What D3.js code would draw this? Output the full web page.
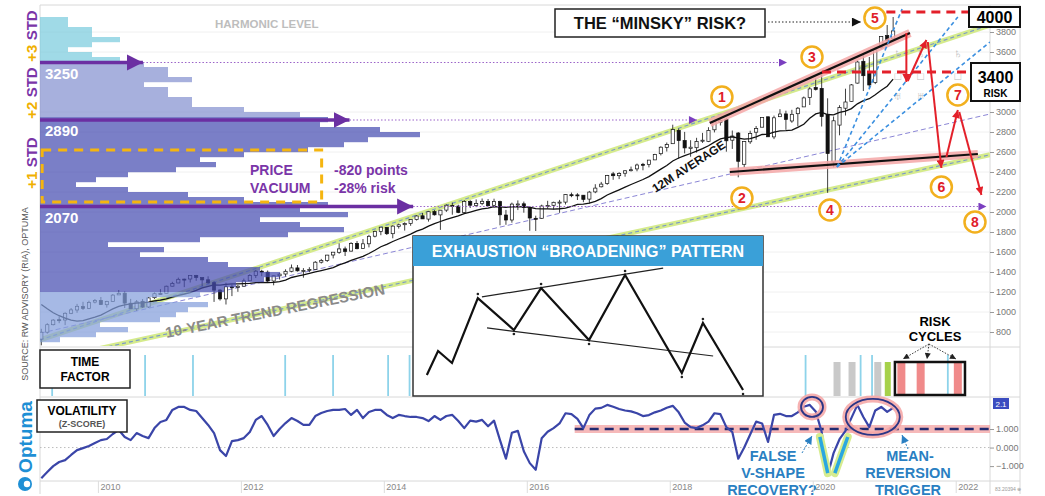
<!DOCTYPE html>
<html>
<head>
<meta charset="utf-8">
<script src="https://cdn.jsdelivr.net/npm/d3@7/dist/d3.min.js"></script>
<style>
  body { margin: 0; background: #fff; }
  svg { display: block; font-family: "Liberation Sans", Arial, sans-serif; }
</style>
</head>
<body>
<svg width="1045" height="496"></svg>
<script>
// monthly candles, Mar 2009 .. Feb 2021
var startYear = 2009, startMonth = 2;
var opens = [729,798,873,923,920,987,1020,1054,1036,1099,
  1116,1073,1106,1171,1188,1088,1032,1107,1050,1143,1185,1187,
  1258,1290,1329,1330,1366,1345,1322,1293,1220,1131,1252,1247,
  1258,1312,1366,1408,1398,1310,1362,1380,1407,1441,1412,1416,
  1426,1498,1515,1570,1597,1631,1609,1686,1635,1682,1758,1806,
  1846,1783,1857,1873,1884,1924,1962,1929,2004,1971,2019,2066,
  2059,1996,2105,2064,2086,2106,2067,2104,1970,1920,2080,2082,
  2039,1937,1937,2057,2067,2094,2099,2173,2171,2168,2129,2201,
  2252,2285,2381,2363,2388,2415,2431,2477,2474,2521,2583,2645,
  2683,2816,2715,2634,2643,2718,2705,2822,2897,2926,2718,2790,
  2477,2702,2798,2848,2952,2751,2953,2981,2910,2983,3051,3144,
  3245,3236,2974,2499,2869,3038,3105,3289,3507,3386,3296,3645,
  3764,3732];
var highs = [832,888,930,957,997,1040,1081,1102,1113,1130,
  1150,1112,1180,1220,1205,1131,1120,1130,1149,1196,1228,1263,
  1302,1344,1333,1365,1371,1346,1357,1308,1229,1293,1277,1269,
  1334,1378,1420,1422,1415,1363,1392,1427,1475,1470,1439,1448,
  1509,1531,1571,1597,1687,1654,1698,1710,1730,1772,1814,1849,
  1850,1867,1884,1897,1924,1968,1991,2005,2019,2018,2076,2093,
  2073,2120,2118,2126,2135,2130,2133,2113,2021,2094,2116,2104,
  2039,1963,2073,2112,2103,2121,2178,2194,2188,2170,2211,2278,
  2301,2371,2401,2398,2419,2454,2484,2491,2520,2582,2657,2695,
  2873,2835,2801,2718,2742,2791,2848,2917,2941,2940,2815,2800,
  2708,2813,2860,2949,2954,2964,3028,3013,3022,3050,3155,3248,
  3337,3394,3137,2955,3068,3233,3280,3515,3588,3550,3646,3760,
  3870,3950];
var lows = [667,783,866,888,869,979,992,1020,1029,1086,
  1071,1044,1106,1170,1040,1029,1011,1040,1040,1131,1173,1187,
  1257,1289,1249,1295,1312,1258,1282,1101,1114,1075,1159,1202,
  1258,1312,1340,1358,1292,1267,1325,1355,1397,1404,1343,1399,
  1426,1485,1501,1536,1582,1560,1604,1627,1633,1646,1746,1768,
  1770,1737,1834,1814,1862,1915,1930,1904,1964,1821,2001,1973,
  1988,1981,2040,2049,2068,2057,2044,1867,1872,1893,2019,1993,
  1812,1810,1932,2033,2026,1992,2075,2148,2120,2098,2084,2188,
  2246,2272,2322,2329,2353,2405,2407,2417,2446,2520,2566,2605,
  2683,2533,2586,2553,2594,2691,2699,2796,2865,2603,2631,2347,
  2444,2681,2722,2848,2751,2729,2953,2822,2892,2856,3051,3070,
  3215,2855,2192,2447,2767,2965,3101,3284,3210,3234,3279,3633,
  3663,3725];
var closes = [798,873,919,919,987,1021,1057,1036,1096,1115,
  1074,1104,1169,1187,1089,1031,1102,1049,1141,1183,1181,1258,
  1286,1327,1326,1364,1345,1321,1292,1219,1131,1253,1247,1258,
  1312,1366,1408,1398,1310,1362,1379,1407,1441,1412,1416,1426,
  1498,1515,1569,1598,1631,1606,1686,1633,1682,1757,1806,1848,
  1783,1859,1872,1884,1924,1960,1931,2003,1972,2018,2068,2059,
  1995,2105,2068,2086,2107,2063,2104,1972,1920,2079,2080,2044,
  1940,1932,2060,2065,2097,2099,2174,2171,2168,2126,2199,2239,
  2279,2364,2363,2384,2412,2423,2470,2472,2519,2575,2648,2674,
  2824,2714,2641,2648,2705,2718,2816,2902,2914,2712,2760,2507,
  2704,2784,2834,2946,2752,2942,2980,2926,2977,3038,3141,3231,
  3226,2954,2585,2912,3044,3100,3271,3500,3363,3270,3622,3756,
  3714,3811];
// closes Apr 2008 .. Feb 2009, needed for the 12 month average
var priorCloses = [1386,1400,1280,1267,1283,1166,969,896,903,826,735];

// volatility z-score, same months
var volZ = [-1.65,-1.32,-1.0,-0.78,-0.68,-0.4,-0.14,-0.03,0.08,0.24,0.4,0.46,
  0.73,0.95,0.57,0.4,0.78,0.62,0.51,1.05,1.38,1.49,2.03,2.19,
  2.19,2.03,1.97,1.59,1.22,0.78,-0.14,-0.46,0.35,0.4,0.51,0.84,
  1.49,1.7,1.22,0.62,1.0,1.32,1.59,1.43,1.22,1.22,1.7,1.86,
  1.97,2.03,2.03,2.08,1.76,2.03,1.59,1.92,2.03,2.03,1.76,1.59,
  1.76,1.7,1.65,1.65,1.59,1.43,1.7,1.49,1.7,1.76,1.43,1.05,
  1.45,1.4,1.49,1.15,1.45,0.4,-0.6,0.8,0.9,-0.2,-0.84,-1.2,
  0.5,0.85,1.05,1.3,1.85,1.8,1.55,1.05,1.75,2.1,2.14,2.3,
  2.2,2.08,2.0,1.95,1.85,1.7,1.75,1.9,2.0,2.15,2.25,1.9,
  1.35,1.1,1.05,1.2,1.4,1.85,1.8,1.1,0.84,-0.6,0.0,0.7,
  1.4,1.3,0.3,1.76,1.82,1.7,1.7,1.9,2.2,2.3,1.95,0.85,
  -1.5,-0.3,0.45,0.9,1.6,2.3,1.65,1.1,2.0,2.19,1.92,2.14];

// volume at price, 50 point bins from 3950 down
var profileTop = 3950, profileStep = 50;
var profileVol = [7,7,13,13,20,13,7,13,20,
  26,32,32,38,26,32,32,38,38,51,65,
  72,70,85,95,82,76,67,51,40,44,34,22,14,9,22,37,51,72,
  65,77,55,65,76,62,40,17,31,25,42,47,55,60,56,49,
  46,40,27,42,37,34,30,15,22,14,5];

var yearTicks = [2010,2012,2014,2016,2018,2020,2022];
var priceTicks = [800,1000,1200,1400,1600,1800,2000,2200,2400,2600,2800,3000,3600,3800];
var volTicks = [1,0,-1];

var harmonicPrice = [3495, 2920, 2055];
var harmonicLabel = ["3250", "2890", "2070"];
var harmonicArrowEnd = [2010.63, 2013.52, 2014.41];
var harmonicDotEnd = [2019.64, 2018.38, 2022.43];

var channelUpper = [[2009.19, 720], [2022.48, 3870]];
var channelLower = [[2009.19, 505], [2022.48, 2572]];
var channelMid = [[2009.19, 787], [2022.48, 2980]];

var broadTop = [[2018.56, 2890], [2021.36, 3790]];
var broadBottom = [[2018.84, 2400], [2022.31, 2580]];
var fanFrom = [2020.34, 2450];
var fanTo = [[2021.25, 4030], [2022.03, 3950], [2022.48, 3700]];
var riskPath = [
  [[2021.31, 3790], [2021.31, 3300]],
  [[2021.33, 3310], [2021.59, 3720]],
  [[2021.61, 3700], [2021.80, 2440]],
  [[2021.87, 2550], [2022.03, 3020]],
  [[2022.05, 3000], [2022.36, 2170]]
];
var points = ["1","2","3","4","5","6","7","8"];
var pointT = [2018.73, 2019.01, 2019.99, 2020.24, 2020.87, 2021.80, 2022.03, 2022.27];
var pointP = [3150, 2140, 3550, 2020, 3940, 2250, 3170, 1900];

var timeLines = [2009.36, 2010.66, 2011.33, 2012.62, 2013.29, 2014.06, 2014.36, 2019.90, 2020.67, 2020.83, 2021.89];
var timeGray = [2020.34, 2020.55, 2020.91];
var timeGreen = [2021.05];
var riskBars = [2021.24, 2021.51, 2022.03];

// inset pattern, 0..100 box units
var patternX = [2.6, 5.9, 10, 17.6, 28.2, 36.2, 50.3, 60.9, 77.6, 83.8, 95.6];
var patternY = [13.9, 33.6, 23.8, 77, 50.8, 85.2, 42.6, 95.9, 15.6, 56.6, 1.6];

var svg = d3.select("svg");
var L = 40, R = 990;
var x = d3.scaleLinear().domain([2009.19, 2022.48]).range([L, R]);
var y = d3.scaleLinear().domain([660, 4070]).range([346, 5]);
var yv = d3.scaleLinear().domain([-1.75, 2.7]).range([480, 397.5]);
var xv = d3.scaleLinear().domain([0, 100]).range([L, L + 400]);
var tOf = function (i) { return startYear + (startMonth + i + 0.5) / 12; };

var candles = closes.map(function (c, i) {
  return { t: tOf(i), o: opens[i], h: highs[i], l: lows[i], c: c };
});
var allCloses = priorCloses.concat(closes);
var ma = closes.map(function (c, i) {
  return [tOf(i), d3.mean(allCloses.slice(i, i + 12))];
});

var defs = svg.append("defs");
function marker(id, color, w, h) {
  defs.append("marker").attr("id", id)
    .attr("viewBox", "0 0 10 10").attr("refX", 10).attr("refY", 5)
    .attr("markerWidth", w).attr("markerHeight", h)
    .attr("markerUnits", "userSpaceOnUse").attr("orient", "auto")
    .append("path").attr("d", "M0,0L10,5L0,10Z").attr("fill", color);
}
marker("bigPurple", "#6b2fa2", 16, 17);
marker("smallPurple", "#7b3fc0", 9, 8);
marker("black", "#111", 11, 9);
marker("red", "#e3202a", 9, 8);
marker("blue", "#2a7fc2", 9, 8);
marker("dark", "#222", 7, 6);
defs.append("clipPath").attr("id", "priceClip").append("rect")
  .attr("x", L).attr("y", 5).attr("width", R - L).attr("height", 341);

svg.append("rect").attr("width", 1045).attr("height", 496).attr("fill", "#fff");

// grid + frame
svg.append("g").selectAll("line").data(priceTicks).enter().append("line")
  .attr("x1", L).attr("x2", R).attr("y1", function (d) { return y(d); }).attr("y2", function (d) { return y(d); })
  .attr("stroke", "#f0f0f0");
[5, 347, 397, 481].forEach(function (yy) {
  svg.append("line").attr("x1", L).attr("x2", 1020).attr("y1", yy).attr("y2", yy).attr("stroke", "#d8d8d8");
});
[L, R, 1020].forEach(function (xx) {
  svg.append("line").attr("x1", xx).attr("x2", xx).attr("y1", 5).attr("y2", 494).attr("stroke", "#d8d8d8");
});

var line = d3.line().x(function (d) { return x(d[0]); }).y(function (d) { return y(d[1]); });

// regression channel
var price = svg.append("g").attr("clip-path", "url(#priceClip)");
[channelUpper, channelLower].forEach(function (c) {
  price.append("path").attr("d", line(c)).attr("fill", "none").attr("stroke", "#d5eb8c").attr("stroke-width", 5);
  price.append("path").attr("d", line(c)).attr("fill", "none").attr("stroke", "#7d9cc6")
    .attr("stroke-width", 1.2).attr("stroke-dasharray", "4,3");
});
price.append("path").attr("d", line(channelMid)).attr("fill", "none").attr("stroke", "#8b86d6")
  .attr("stroke-width", 1).attr("stroke-dasharray", "5,3");

// candles
var cg = price.append("g").selectAll("g").data(candles).enter().append("g");
cg.append("line")
  .attr("x1", function (d) { return x(d.t); }).attr("x2", function (d) { return x(d.t); })
  .attr("y1", function (d) { return y(d.h); }).attr("y2", function (d) { return y(d.l); })
  .attr("stroke", "#111").attr("stroke-width", 0.8);
cg.append("rect")
  .attr("x", function (d) { return x(d.t) - 1.6; }).attr("width", 3.2)
  .attr("y", function (d) { return y(Math.max(d.o, d.c)); })
  .attr("height", function (d) { return Math.max(1, Math.abs(y(d.o) - y(d.c))); })
  .attr("fill", function (d) { return d.c >= d.o ? "#fff" : "#111"; })
  .attr("stroke", "#111").attr("stroke-width", 0.7);

price.append("path").attr("d", line(ma)).attr("fill", "none").attr("stroke", "#111").attr("stroke-width", 1.3);

// volume profile
function binColor(lo) {
  if (lo >= 3500) return "#7cccde";
  if (lo >= 2950) return "#8692d0";
  if (lo >= 1200) return "#484eb2";
  return "#849fdc";
}
svg.append("g").attr("opacity", 0.72).selectAll("rect").data(profileVol).enter().append("rect")
  .attr("x", L)
  .attr("y", function (d, i) { return y(profileTop - i * profileStep); })
  .attr("height", function (d, i) { return y(profileTop - (i + 1) * profileStep) - y(profileTop - i * profileStep) + 0.2; })
  .attr("width", function (d) { return xv(d) - L; })
  .attr("fill", function (d, i) { return binColor(profileTop - (i + 1) * profileStep); });

// harmonic levels
harmonicPrice.forEach(function (p, i) {
  svg.append("line").attr("x1", x(harmonicArrowEnd[i])).attr("x2", x(harmonicDotEnd[i]))
    .attr("y1", y(p)).attr("y2", y(p)).attr("stroke", "#9a62c8").attr("stroke-width", 1)
    .attr("stroke-dasharray", "1.5,2").attr("marker-end", "url(#smallPurple)");
  svg.append("line").attr("x1", L).attr("x2", x(harmonicArrowEnd[i]))
    .attr("y1", y(p)).attr("y2", y(p)).attr("stroke", "#6b2fa2").attr("stroke-width", 3.5)
    .attr("marker-end", "url(#bigPurple)");
  svg.append("text").attr("x", 45).attr("y", y(p) + 16).text(harmonicLabel[i])
    .attr("fill", "#fff").attr("font-weight", "bold").attr("font-size", 15);
});
svg.append("text").attr("x", 215).attr("y", 28).text("HARMONIC LEVEL")
  .attr("fill", "#bdbdbd").attr("font-weight", "bold").attr("font-size", 11.5);

// price vacuum
svg.append("rect").attr("x", x(2009.22)).attr("y", y(2620))
  .attr("width", x(2013.13) - x(2009.22)).attr("height", y(2100) - y(2620))
  .attr("fill", "none").attr("stroke", "#f5b50f").attr("stroke-width", 3).attr("stroke-dasharray", "9,7");
var pv = svg.append("g").attr("fill", "#7a35a8").attr("font-weight", "bold").attr("font-size", 14);
pv.append("text").attr("x", 250).attr("y", 175).text("PRICE");
pv.append("text").attr("x", 250).attr("y", 193).text("VACUUM");
pv.append("text").attr("x", 334).attr("y", 175).text("-820 points");
pv.append("text").attr("x", 334).attr("y", 193).text("-28% risk");

// text on the price panel
svg.append("text").attr("transform", "translate(276,316) rotate(-11.3)").attr("text-anchor", "middle")
  .attr("fill", "#8a8a8a").attr("font-weight", "bold").attr("font-size", 15).text("10-YEAR TREND REGRESSION");
svg.append("text").attr("transform", "translate(691,170) rotate(-33)").attr("text-anchor", "middle")
  .attr("fill", "#111").attr("font-weight", "bold").attr("font-size", 12).text("12M AVERAGE");

// future glyphs
var glyphT = [2021.19, 2021.51, 2022.03];
glyphT.forEach(function (t, i) {
  svg.append("text").attr("x", x(t)).attr("y", y(3540)).attr("text-anchor", "middle").attr("fill", "#bbb").attr("font-size", 13).text("♄");
  svg.append("text").attr("x", x(t)).attr("y", y(3320)).attr("text-anchor", "middle").attr("fill", "#bbb").attr("font-size", 11).text("□");
  if (i < 2) svg.append("text").attr("x", x(t)).attr("y", y(3120)).attr("text-anchor", "middle").attr("fill", "#bbb").attr("font-size", 12).text("♅");
});

// broadening pattern lines
[broadTop, broadBottom].forEach(function (b) {
  svg.append("path").attr("d", line(b)).attr("stroke", "#f5a7a7").attr("stroke-width", 8).attr("opacity", 0.85);
  svg.append("path").attr("d", line(b)).attr("stroke", "#111").attr("stroke-width", 2.2);
});
fanTo.forEach(function (f) {
  svg.append("path").attr("d", line([fanFrom, f])).attr("stroke", "#3a8fe0").attr("stroke-width", 1.6)
    .attr("stroke-dasharray", "4,3").attr("clip-path", "url(#priceClip)");
});
[[2021.03, 4000], [2020.13, 3400]].forEach(function (r) {
  svg.append("line").attr("x1", x(r[0])).attr("x2", R).attr("y1", y(r[1])).attr("y2", y(r[1]))
    .attr("stroke", "#e3202a").attr("stroke-width", 3).attr("stroke-dasharray", "9,6");
});
riskPath.forEach(function (s) {
  svg.append("path").attr("d", line(s)).attr("stroke", "#e3202a").attr("stroke-width", 2)
    .attr("marker-end", "url(#red)");
});

// numbered points
var pg = svg.append("g").selectAll("g").data(points).enter().append("g")
  .attr("transform", function (d, i) { return "translate(" + x(pointT[i]) + "," + y(pointP[i]) + ")"; });
pg.append("circle").attr("r", 10.5).attr("fill", "#fff").attr("stroke", "#f2b01e").attr("stroke-width", 2.5);
pg.append("text").attr("text-anchor", "middle").attr("dy", "0.36em").attr("fill", "#e0202a")
  .attr("font-weight", "bold").attr("font-size", 14).text(function (d) { return d; });

// minsky box
svg.append("rect").attr("x", 555).attr("y", 9).attr("width", 210).attr("height", 28)
  .attr("fill", "#fff").attr("stroke", "#222").attr("stroke-width", 1.5);
svg.append("text").attr("x", 660).attr("y", 29).attr("text-anchor", "middle").attr("font-weight", "bold")
  .attr("font-size", 16.5).attr("fill", "#111").text("THE “MINSKY” RISK?");
svg.append("line").attr("x1", 768).attr("x2", x(2020.87) - 14).attr("y1", 22).attr("y2", 22)
  .attr("stroke", "#222").attr("stroke-width", 1).attr("stroke-dasharray", "1.5,2").attr("marker-end", "url(#black)");

// inset
var ix = d3.scaleLinear().domain([0, 100]).range([418, 758]);
var iy = d3.scaleLinear().domain([0, 100]).range([392, 270]);
var inset = svg.append("g");
inset.append("rect").attr("x", 413).attr("y", 236).attr("width", 350).attr("height", 160)
  .attr("fill", "#fff").attr("stroke", "#333").attr("stroke-width", 1.5);
inset.append("rect").attr("x", 413).attr("y", 236).attr("width", 350).attr("height", 30).attr("fill", "#3aa0d8");
inset.append("text").attr("x", 588).attr("y", 257).attr("text-anchor", "middle").attr("fill", "#fff")
  .attr("font-weight", "bold").attr("font-size", 16).text("EXHAUSTION “BROADENING” PATTERN");
var il = d3.line().x(function (d) { return ix(d[0]); }).y(function (d) { return iy(d[1]); });
inset.append("path").attr("d", il([[18.8, 77.9], [72.1, 101.6]])).attr("stroke", "#222").attr("stroke-width", 1.2);
inset.append("path").attr("d", il([[20.3, 52.5], [86.8, 29.5]])).attr("stroke", "#222").attr("stroke-width", 1.2);
inset.append("path").attr("d", il(patternX.map(function (v, i) { return [v, patternY[i]]; })))
  .attr("fill", "none").attr("stroke", "#111").attr("stroke-width", 2.2).attr("stroke-linejoin", "miter");
inset.selectAll("circle.piv").data(patternX.slice(3)).enter().append("circle")
  .attr("cx", function (d) { return ix(d); }).attr("cy", function (d, i) { return iy(patternY[i + 3]) + (i % 2 ? 4 : -4); })
  .attr("r", 1.3).attr("fill", "#222");

// right price axis
var ax = svg.append("g").attr("transform", "translate(" + R + ",0)")
  .call(d3.axisRight(y).tickValues(priceTicks).tickSize(4).tickFormat(d3.format("d")));
ax.select(".domain").remove();
ax.selectAll("line").attr("stroke", "#999");
ax.selectAll("text").attr("fill", "#777").attr("font-size", 9).attr("x", 6);

svg.append("rect").attr("x", 969).attr("y", 7).attr("width", 51).attr("height", 20)
  .attr("fill", "#fff").attr("stroke", "#111").attr("stroke-width", 2);
svg.append("text").attr("x", 994.5).attr("y", 23).attr("text-anchor", "middle").attr("font-weight", "bold")
  .attr("font-size", 16).text("4000");
svg.append("rect").attr("x", 971).attr("y", 63).attr("width", 49).attr("height", 38)
  .attr("fill", "#fff").attr("stroke", "#111").attr("stroke-width", 2);
svg.append("text").attr("x", 995.5).attr("y", 83).attr("text-anchor", "middle").attr("font-weight", "bold")
  .attr("font-size", 16).text("3400");
svg.append("text").attr("x", 995.5).attr("y", 97).attr("text-anchor", "middle").attr("font-weight", "bold")
  .attr("font-size", 10).text("RISK");

// time factor panel
var tf = svg.append("g");
tf.selectAll("line.b").data(timeLines).enter().append("line")
  .attr("x1", function (d) { return x(d); }).attr("x2", function (d) { return x(d); })
  .attr("y1", 355).attr("y2", 396).attr("stroke", "#8dd3ea").attr("stroke-width", 1.8);
tf.selectAll("rect.g").data(timeGray).enter().append("rect")
  .attr("x", function (d) { return x(d) - 3.5; }).attr("width", 7).attr("y", 362).attr("height", 34).attr("fill", "#c9c9c9");
tf.selectAll("rect.gr").data(timeGreen).enter().append("rect")
  .attr("x", function (d) { return x(d) - 3; }).attr("width", 6).attr("y", 362).attr("height", 34).attr("fill", "#a6d14a");
tf.append("rect").attr("x", x(2021.15)).attr("y", 362).attr("width", x(2022.13) - x(2021.15)).attr("height", 33).attr("fill", "#fff");
tf.selectAll("rect.r").data(riskBars).enter().append("rect")
  .attr("x", function (d) { return x(d) - 4; }).attr("width", 8).attr("y", 362).attr("height", 33).attr("fill", "#f08a8a");
tf.append("line").attr("x1", x(2021.89)).attr("x2", x(2021.89)).attr("y1", 362).attr("y2", 395)
  .attr("stroke", "#8dd3ea").attr("stroke-width", 1.8);
tf.append("rect").attr("x", x(2021.15)).attr("y", 362).attr("width", x(2022.13) - x(2021.15)).attr("height", 33)
  .attr("fill", "none").attr("stroke", "#111").attr("stroke-width", 2.5);
tf.append("text").attr("x", 935).attr("y", 326).attr("text-anchor", "middle").attr("font-weight", "bold").attr("font-size", 13).text("RISK");
tf.append("text").attr("x", 935).attr("y", 341).attr("text-anchor", "middle").attr("font-weight", "bold").attr("font-size", 13).text("CYCLES");
[[903, 359], [927, 359], [956, 359]].forEach(function (p) {
  tf.append("line").attr("x1", 929).attr("y1", 344).attr("x2", p[0]).attr("y2", p[1])
    .attr("stroke", "#222").attr("stroke-width", 0.9).attr("stroke-dasharray", "1.5,1.5").attr("marker-end", "url(#dark)");
});
tf.append("rect").attr("x", 40).attr("y", 350).attr("width", 90).attr("height", 38)
  .attr("fill", "#fff").attr("stroke", "#222").attr("stroke-width", 1.5);
tf.append("text").attr("x", 85).attr("y", 366).attr("text-anchor", "middle").attr("font-weight", "bold").attr("font-size", 12).text("TIME");
tf.append("text").attr("x", 85).attr("y", 381).attr("text-anchor", "middle").attr("font-weight", "bold").attr("font-size", 12).text("FACTOR");

// volatility panel
var vg = svg.append("g");
vg.append("line").attr("x1", L).attr("x2", R).attr("y1", yv(0)).attr("y2", yv(0))
  .attr("stroke", "#bbb").attr("stroke-dasharray", "1.5,2.5");
vg.append("line").attr("x1", x(2016.67)).attr("x2", R).attr("y1", yv(1)).attr("y2", yv(1))
  .attr("stroke", "#f5a8a8").attr("stroke-width", 8).attr("opacity", 0.8);
vg.append("line").attr("x1", x(2016.67)).attr("x2", R).attr("y1", yv(1)).attr("y2", yv(1))
  .attr("stroke", "#222a70").attr("stroke-width", 2.6).attr("stroke-dasharray", "9,6");
var vLine = d3.line().x(function (d, i) { return x(tOf(i)); }).y(function (d) { return yv(d); });
vg.append("path").attr("d", vLine(volZ)).attr("fill", "none").attr("stroke", "#3a45a8")
  .attr("stroke-width", 2.2).attr("stroke-linejoin", "round");
var vee = [[[2020.10, 0.57], [2020.21, -1.38]], [[2020.31, -1.38], [2020.49, 0.57]]];
var vl = d3.line().x(function (d) { return x(d[0]); }).y(function (d) { return yv(d[1]); });
vee.forEach(function (s) {
  vg.append("path").attr("d", vl(s)).attr("stroke", "#d6ec8f").attr("stroke-width", 8).attr("stroke-linecap", "round");
});
vee.forEach(function (s) {
  vg.append("path").attr("d", vl(s)).attr("stroke", "#2aa7e0").attr("stroke-width", 3.5);
});
[[2019.99, 2.19, 11, 10], [2020.84, 1.65, 27, 18]].forEach(function (e) {
  vg.append("ellipse").attr("cx", x(e[0])).attr("cy", yv(e[1])).attr("rx", e[2]).attr("ry", e[3])
    .attr("fill", "none").attr("stroke", "#f4a3a3").attr("stroke-width", 7).attr("opacity", 0.85);
  vg.append("ellipse").attr("cx", x(e[0])).attr("cy", yv(e[1])).attr("rx", e[2]).attr("ry", e[3])
    .attr("fill", "none").attr("stroke", "#2a3585").attr("stroke-width", 1.8);
});
vg.append("line").attr("x1", 802).attr("y1", 453).attr("x2", 812).attr("y2", 436)
  .attr("stroke", "#2a7fc2").attr("stroke-width", 1).attr("stroke-dasharray", "2,1.5").attr("marker-end", "url(#blue)");
vg.append("line").attr("x1", 908).attr("y1", 449).attr("x2", 902).attr("y2", 435)
  .attr("stroke", "#2a7fc2").attr("stroke-width", 1).attr("stroke-dasharray", "2,1.5").attr("marker-end", "url(#blue)");
var bt = vg.append("g").attr("fill", "#2a7fc2").attr("font-weight", "bold").attr("font-size", 14.5).attr("text-anchor", "middle");
bt.append("text").attr("x", 773).attr("y", 461).text("FALSE");
bt.append("text").attr("x", 773).attr("y", 478).text("V-SHAPE");
bt.append("text").attr("x", 772).attr("y", 494.5).text("RECOVERY?");
bt.append("text").attr("x", 910).attr("y", 461).text("MEAN-");
bt.append("text").attr("x", 908).attr("y", 478).text("REVERSION");
bt.append("text").attr("x", 908).attr("y", 494.5).text("TRIGGER");

vg.append("rect").attr("x", 37).attr("y", 400).attr("width", 90).attr("height", 32)
  .attr("fill", "#fff").attr("stroke", "#222").attr("stroke-width", 1.5);
vg.append("text").attr("x", 82).attr("y", 415).attr("text-anchor", "middle").attr("font-weight", "bold").attr("font-size", 12).text("VOLATILITY");
vg.append("text").attr("x", 82).attr("y", 427).attr("text-anchor", "middle").attr("font-weight", "bold").attr("font-size", 9).attr("fill", "#555").text("(Z-SCORE)");

var av = svg.append("g").attr("transform", "translate(" + R + ",0)")
  .call(d3.axisRight(yv).tickValues(volTicks).tickSize(4).tickFormat(d3.format(".3f")));
av.select(".domain").remove();
av.selectAll("line").attr("stroke", "#999");
av.selectAll("text").attr("fill", "#777").attr("font-size", 9).attr("x", 6);
svg.append("rect").attr("x", 993).attr("y", 398).attr("width", 16).attr("height", 11).attr("fill", "#3b4cc0");
svg.append("text").attr("x", 1001).attr("y", 407).attr("text-anchor", "middle").attr("fill", "#fff").attr("font-size", 8).text("2.1");

// bottom axis
var bx = svg.append("g").attr("transform", "translate(0,481)")
  .call(d3.axisBottom(x).tickValues(yearTicks).tickSize(12).tickFormat(d3.format("d")));
bx.select(".domain").remove();
bx.selectAll("line").attr("stroke", "#ddd");
bx.selectAll("text").attr("fill", "#888").attr("font-size", 9).attr("text-anchor", "start").attr("x", 2).attr("y", 3);
svg.append("text").attr("x", 995).attr("y", 491).attr("fill", "#999").attr("font-size", 5).text("83.20394 ⊕");

// left side labels
var stdLabels = [["+3", " STD", 36], ["+2", " STD", 93], ["+1", " STD", 163]];
stdLabels.forEach(function (s) {
  var t = svg.append("text").attr("transform", "translate(37," + s[2] + ") rotate(-90)")
    .attr("text-anchor", "middle").attr("font-weight", "bold").attr("font-size", 15);
  t.append("tspan").attr("fill", "#f0b000").text(s[0]);
  t.append("tspan").attr("fill", "#7a35a8").text(s[1]);
});
svg.append("text").attr("transform", "translate(28,294) rotate(-90)").attr("text-anchor", "middle")
  .attr("fill", "#555").attr("font-size", 9).text("SOURCE: RW ADVISORY (RIA), OPTUMA");
svg.append("text").attr("transform", "translate(32,437) rotate(-90)").attr("text-anchor", "middle")
  .attr("fill", "#1e8fd5").attr("font-weight", "bold").attr("font-size", 19).text("Optuma");
svg.append("circle").attr("cx", 25).attr("cy", 484).attr("r", 7).attr("fill", "#1e8fd5");
svg.append("circle").attr("cx", 27).attr("cy", 484).attr("r", 3.2).attr("fill", "#fff");
</script>
</body>
</html>
